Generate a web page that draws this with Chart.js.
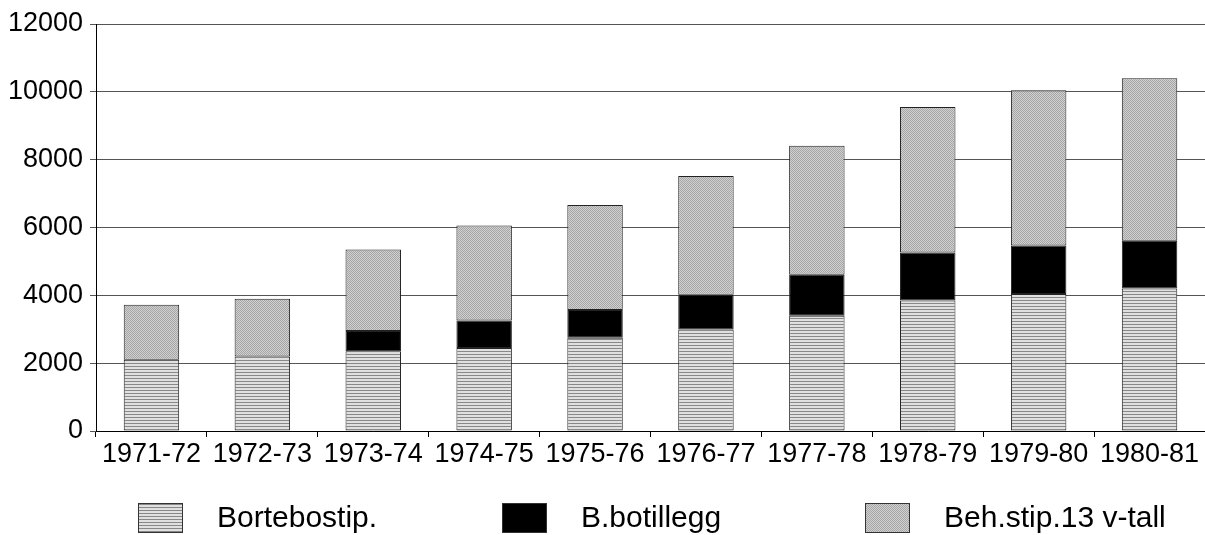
<!DOCTYPE html>
<html>
<head>
<meta charset="utf-8">
<title>Stipend 1971-81</title>
<script src="https://cdn.jsdelivr.net/npm/chart.js@4/dist/chart.umd.min.js"></script>
<style>
  html, body { margin: 0; padding: 0; background: #fff; }
  #wrap { width: 1205px; height: 535px; position: relative; }
</style>
</head>
<body>
<div id="wrap"><canvas id="c" width="1205" height="535"></canvas></div>
<script>
// School years on the category axis
const categories = ['1971-72', '1972-73', '1973-74', '1974-75', '1975-76',
                    '1976-77', '1977-78', '1978-79', '1979-80', '1980-81'];

// Stacked series, bottom to top
const bortebostip = [2100, 2200, 2350, 2450, 2750, 2990, 3400, 3850, 4040, 4200];
const botillegg   = [0, 0, 600, 810, 820, 1030, 1210, 1410, 1430, 1410];
const behStip     = [1620, 1700, 2400, 2800, 3090, 3500, 3800, 4290, 4580, 4790];

const seriesNames = ['Bortebostip.', 'B.botillegg', 'Beh.stip.13 v-tall'];

// Value axis ticks
const yTicks = [0, 2000, 4000, 6000, 8000, 10000, 12000];

// Fill patterns: fine horizontal hatching and a dotted grey screen
function makePattern(w, h, paint) {
  const pc = document.createElement('canvas');
  pc.width = w; pc.height = h;
  const p = pc.getContext('2d');
  paint(p);
  return document.getElementById('c').getContext('2d').createPattern(pc, 'repeat');
}
const stripeFill = makePattern(1, 3, p => {
  p.fillStyle = '#e0e0e0'; p.fillRect(0, 0, 1, 3);
  p.fillStyle = '#888888'; p.fillRect(0, 0, 1, 1);
});
const dotFill = makePattern(2, 2, p => {
  p.fillStyle = '#d0d0d0'; p.fillRect(0, 0, 2, 2);
  p.fillStyle = '#a6a6a6'; p.fillRect(0, 0, 1, 1); p.fillRect(1, 1, 1, 1);
});
const fills = [stripeFill, '#000000', dotFill];

const FONT = 'Liberation Sans, Arial, sans-serif';

// Legend drawn below the axis labels
const legendPlugin = {
  id: 'bottomLegend',
  afterDraw(chart) {
    const ctx = chart.ctx;
    const boxX = [138, 502, 865];
    const y0 = 503, bw = 45, bh = 30;
    ctx.save();
    ctx.font = '30px ' + FONT;
    ctx.textBaseline = 'middle';
    ctx.textAlign = 'left';
    seriesNames.forEach((name, i) => {
      ctx.fillStyle = fills[i];
      ctx.fillRect(boxX[i], y0, bw, bh);
      ctx.strokeStyle = '#333';
      ctx.lineWidth = 1;
      ctx.strokeRect(boxX[i] + 0.5, y0 + 0.5, bw - 1, bh - 1);
      ctx.fillStyle = '#000';
      ctx.fillText(name, boxX[i] + 79, y0 + bh / 2 + 1);
    });
    ctx.restore();
  }
};

const datasets = [bortebostip, botillegg, behStip].map((vals, i) => ({
  label: seriesNames[i],
  data: vals,
  backgroundColor: fills[i],
  borderColor: '#222',
  borderWidth: 1,
  borderSkipped: false,
  barPercentage: 0.5,
  categoryPercentage: 1.0
}));

new Chart(document.getElementById('c'), {
  type: 'bar',
  data: { labels: categories, datasets },
  options: {
    responsive: false,
    animation: false,
    devicePixelRatio: 1,
    layout: { padding: { top: 24, right: -4, left: 0, bottom: 0 } },
    plugins: { legend: { display: false }, tooltip: { enabled: false } },
    scales: {
      x: {
        stacked: true,
        grid: { offset: true, drawOnChartArea: false, drawTicks: true, tickLength: 6, color: '#000' },
        border: { display: true, color: '#000', width: 1 },
        ticks: { color: '#000', font: { family: FONT, size: 27 }, padding: 1, maxRotation: 0, autoSkip: false },
        afterFit(scale) { scale.height = 104; }
      },
      y: {
        stacked: true,
        min: 0,
        max: 12000,
        afterBuildTicks(scale) { scale.ticks = yTicks.map(v => ({ value: v })); },
        grid: { color: '#555', lineWidth: 1, drawTicks: true, tickLength: 6 },
        border: { display: true, color: '#000', width: 1 },
        ticks: {
          color: '#000',
          font: { family: FONT, size: 27 },
          padding: 7,
          callback: v => String(v)
        },
        afterFit(scale) { scale.width = 96; }
      }
    }
  },
  plugins: [legendPlugin]
});
</script>
</body>
</html>
